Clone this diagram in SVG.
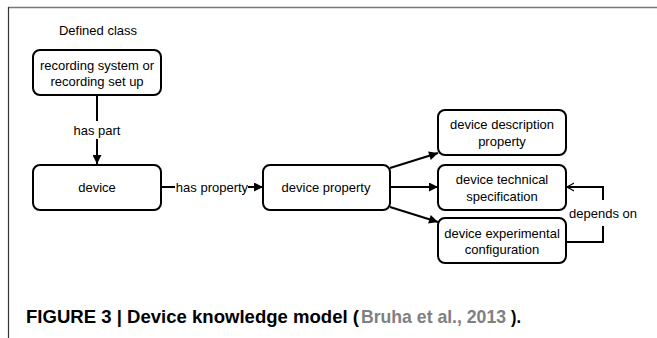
<svg xmlns="http://www.w3.org/2000/svg" width="657" height="338" viewBox="0 0 657 338">
<style>
.box{fill:#fff;stroke:#000;stroke-width:2}
.t{font-family:"Liberation Sans",Arial,sans-serif;font-size:13px;fill:#000;text-anchor:middle}
.c{fill:none;stroke:#000;stroke-width:2}
.cap{font-family:"Liberation Sans Narrow","Liberation Sans",Arial,sans-serif;font-size:19px;font-weight:bold}
</style>
<defs>
<marker id="ah" viewBox="0 0 10 10" refX="10" refY="5" markerWidth="5" markerHeight="4.5" orient="auto" markerUnits="strokeWidth">
<path d="M0,0 L10,5 L0,10 z" fill="#000"/>
</marker>
<marker id="oh" viewBox="0 0 10 10" refX="9" refY="5" markerWidth="4" markerHeight="5" orient="auto" markerUnits="strokeWidth">
<path d="M0,0 L9,5 L0,10" fill="none" stroke="#000" stroke-width="1.5"/>
</marker>
</defs>
<rect width="657" height="338" fill="#fff"/>
<line x1="8" y1="7.5" x2="657" y2="7.5" stroke="#777" stroke-width="1.5"/>
<line x1="8.5" y1="7" x2="8.5" y2="338" stroke="#333" stroke-width="1.2"/>
<text class="t" x="98" y="35">Defined class</text>
<g id="connectors">
<line class="c" x1="97" y1="95" x2="97" y2="121"/>
<text class="t" x="97" y="135">has part</text>
<line class="c" x1="97" y1="139" x2="97" y2="164" marker-end="url(#ah)"/>
<line class="c" x1="161" y1="187" x2="175" y2="187"/>
<text class="t" x="212" y="192">has property</text>
<line class="c" x1="248" y1="187" x2="263" y2="187" marker-end="url(#ah)"/>
<line class="c" x1="390" y1="168" x2="438" y2="153" marker-end="url(#ah)"/>
<line class="c" x1="390" y1="187" x2="438" y2="187" marker-end="url(#ah)"/>
<line class="c" x1="390" y1="207" x2="438" y2="222" marker-end="url(#ah)"/>
<polyline class="c" points="566,242 603,242 603,226"/>
<polyline class="c" points="603,200 603,187 567,187" marker-end="url(#oh)"/>
<text class="t" x="603" y="218">depends on</text>
</g>
<g id="node-recording">
<rect class="box" x="33" y="50" width="128" height="45" rx="7"/>
<text class="t" x="97" y="70">recording system or</text>
<text class="t" x="97" y="86">recording set up</text>
</g>
<g id="node-device">
<rect class="box" x="33" y="165" width="128" height="45" rx="7"/>
<text class="t" x="97" y="192">device</text>
</g>
<g id="node-device-property">
<rect class="box" x="263" y="165" width="127" height="45" rx="7"/>
<text class="t" x="326" y="192">device property</text>
</g>
<g id="node-description">
<rect class="box" x="438" y="110" width="128" height="45" rx="7"/>
<text class="t" x="502" y="129">device description</text>
<text class="t" x="502" y="146">property</text>
</g>
<g id="node-technical">
<rect class="box" x="438" y="165" width="128" height="45" rx="7"/>
<text class="t" x="502" y="184">device technical</text>
<text class="t" x="502" y="201">specification</text>
</g>
<g id="node-experimental">
<rect class="box" x="438" y="218" width="128" height="45" rx="7"/>
<text class="t" x="502" y="238">device experimental</text>
<text class="t" x="502" y="254">configuration</text>
</g>
<g id="caption">
<text class="cap" x="26" y="323" textLength="333" lengthAdjust="spacingAndGlyphs" fill="#000">FIGURE 3 | Device knowledge model (</text>
<text class="cap" x="361" y="323" textLength="145" lengthAdjust="spacingAndGlyphs" fill="#808080">Bruha et al., 2013</text>
<text class="cap" x="511" y="323" textLength="10" lengthAdjust="spacingAndGlyphs" fill="#000">).</text>
</g>
</svg>
